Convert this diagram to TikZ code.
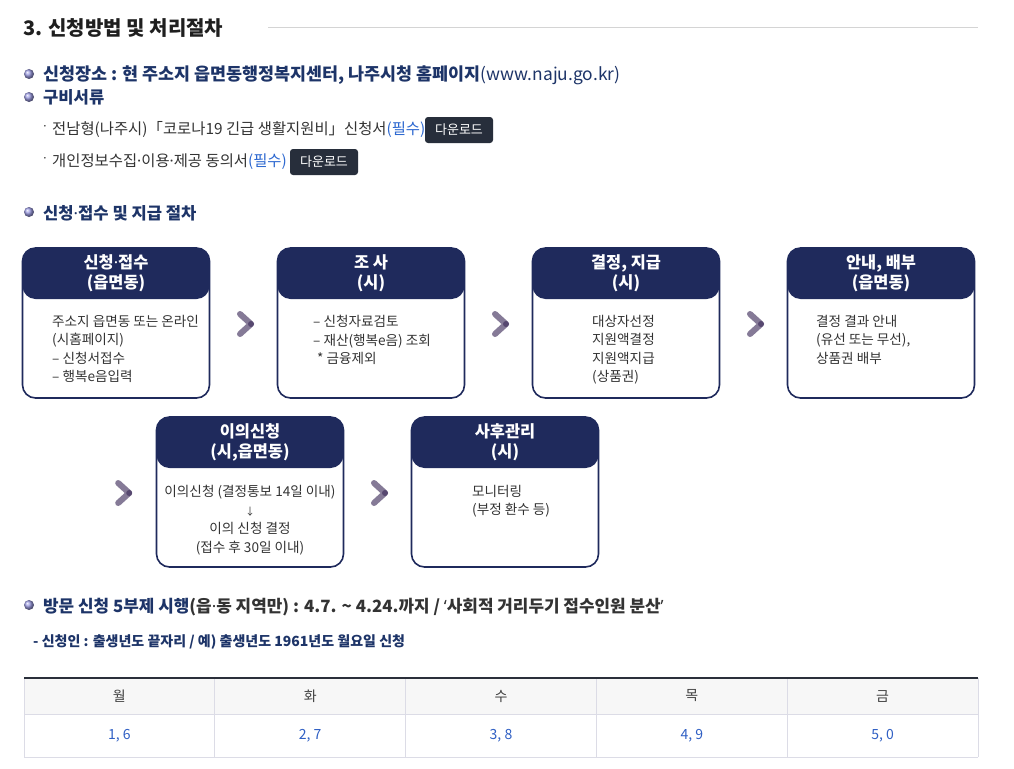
\documentclass[tikz,border=0pt]{standalone}
\usepackage{fontspec}
\setmainfont{Noto Sans CJK KR}
\newfontfamily\latinfont{Noto Sans}
\newcommand\md{{\latinfont ·}}
\usetikzlibrary{calc}
\definecolor{navy}{HTML}{1F2A5C}
\definecolor{tnavy}{HTML}{1D3468}
\definecolor{reqblue}{HTML}{2B67D0}
\definecolor{btnfill}{HTML}{272E3B}
\definecolor{bodygray}{HTML}{333333}
\definecolor{chevc}{HTML}{857A97}
\definecolor{chevd}{HTML}{574870}
\definecolor{bulc}{HTML}{9C9CE2}
\definecolor{thbg}{HTML}{F7F7F7}
\definecolor{tline}{HTML}{DCDCE6}
\definecolor{ttop}{HTML}{2A2F3A}
\definecolor{tblue}{HTML}{2F5FC4}
\definecolor{rulegray}{HTML}{D4D4D4}
\tikzset{
  pbox/.style={draw=navy, line width=1.6pt, rounded corners=13pt,
    minimum width=187pt, minimum height=150pt, inner sep=0pt,
    path picture={\fill[navy] (path picture bounding box.north west) rectangle ([yshift=-51pt]path picture bounding box.north east);}},
  hdr/.style={text=white, font=\fontsize{16.4}{20}\selectfont\bfseries, align=center, inner sep=0pt},
  bodytxt/.style={text=bodygray, font=\fontsize{13.6}{18.5}\selectfont, inner sep=0pt},
  bultxt/.style={anchor=base west, text=tnavy, font=\fontsize{16.6}{20}\selectfont\bfseries, inner sep=0pt},
  subtxt/.style={anchor=base west, text=bodygray, font=\fontsize{15.4}{18}\selectfont, inner sep=0pt},
  btn/.style={fill=btnfill, rounded corners=3pt, text=white, font=\fontsize{13}{16}\selectfont, minimum width=68pt, minimum height=26pt, inner sep=0pt},
  chevline/.style={draw=chevc, line width=6pt, line cap=round, line join=round},
  thtxt/.style={text=black!75, font=\fontsize{14}{16}\selectfont},
  tdtxt/.style={text=tblue, font=\fontsize{14}{16}\selectfont},
}
\newcommand\chevat[1]{%
  \draw[chevline, shift={(#1)}] (-6,-10) -- (5,0) -- (-6,10);
  \fill[chevd, shift={(#1)}] (5,0) circle (3);}
\begin{document}
\begin{tikzpicture}[x=1pt,y=-1pt]
\useasboundingbox[fill=white] (0,0) rectangle (1014,768);
% title
\node[anchor=base west, inner sep=0pt, text=black!88, font=\fontsize{20}{24}\selectfont\bfseries] (title) at (23,36) {3. 신청방법 및 처리절차};
\draw[rulegray, line width=0.8pt] (268,27) -- (978,27);
% bullets
\foreach \yy in {74,97,212,605} \shade[ball color=bulc] (29,\yy) circle (5);
\node[bultxt, font=\fontsize{17.4}{20}\selectfont\bfseries] (bul1) at (43,80) {신청장소 : 현 주소지 읍면동행정복지센터, 나주시청 홈페이지{\mdseries(www.naju.go.kr)}};
\node[bultxt] (bul2) at (43,103) {구비서류};
\node[anchor=center, text=bodygray, font=\fontsize{12}{12}\selectfont, inner sep=0pt] (dot1) at (45,128) {\md};
\node[subtxt] (sub1) at (52,134) {전남형(나주시)「코로나19 긴급 생활지원비」신청서\textcolor{reqblue}{(필수)}};
\node[btn] (btn1) at (459,130) {다운로드};
\node[anchor=center, text=bodygray, font=\fontsize{12}{12}\selectfont, inner sep=0pt] (dot2) at (45,160) {\md};
\node[subtxt] (sub2) at (52,166) {개인정보수집\md 이용\md 제공 동의서\textcolor{reqblue}{(필수)}};
\node[btn] (btn2) at (324,162) {다운로드};
\node[bultxt] (bul3) at (43,219) {신청\md 접수 및 지급 절차};
% boxes
\node[pbox] (b1) at (116,323) {};
\node[pbox] (b2) at (371,323) {};
\node[pbox] (b3) at (626,323) {};
\node[pbox] (b4) at (881,323) {};
\node[pbox] (b5) at (250,492) {};
\node[pbox] (b6) at (505,492) {};
\node[hdr] (b1h) at ([yshift=-26pt]b1.north) {신청\md 접수\\(읍면동)};
\node[hdr] (b2h) at ([yshift=-26pt]b2.north) {조 사\\(시)};
\node[hdr] (b3h) at ([yshift=-26pt]b3.north) {결정, 지급\\(시)};
\node[hdr] (b4h) at ([yshift=-26pt]b4.north) {안내, 배부\\(읍면동)};
\node[hdr] (b5h) at ([yshift=-26pt]b5.north) {이의신청\\(시,읍면동)};
\node[hdr] (b6h) at ([yshift=-26pt]b6.north) {사후관리\\(시)};
\node[bodytxt, anchor=north west, align=left] (b1t) at (52,315) {주소지 읍면동 또는 온라인\\(시홈페이지)\\– 신청서접수\\– 행복e음입력};
\node[bodytxt, anchor=north west, align=left] (b2t) at (313,315) {– 신청자료검토\\– 재산(행복e음) 조회\\\hspace*{4pt}* 금융제외};
\node[bodytxt, anchor=north west, align=left] (b3t) at (592,315) {대상자선정\\지원액결정\\지원액지급\\(상품권)};
\node[bodytxt, anchor=north west, align=left] (b4t) at (816,315) {결정 결과 안내\\(유선 또는 무선),\\상품권 배부};
\node[bodytxt, anchor=north, align=center] (b5t) at (250,485) {이의신청 (결정통보 14일 이내)\\{\fontsize{10}{18.5}\selectfont ↓}\\이의 신청 결정\\(접수 후 30일 이내)};
\node[bodytxt, anchor=north west, align=left] (b6t) at (472,485) {모니터링\\(부정 환수 등)};
% chevrons
\path (b1.east) -- (b2.west) coordinate[pos=0.5] (c12);
\path (b2.east) -- (b3.west) coordinate[pos=0.5] (c23);
\path (b3.east) -- (b4.west) coordinate[pos=0.5] (c34);
\coordinate (c45) at ([xshift=-34pt]b5.west);
\path (b5.east) -- (b6.west) coordinate[pos=0.5] (c56);
\foreach \c in {c12,c23,c34,c45,c56} {\chevat{$(\c)+(2.5,1)$}}
% bullet 4
\node[bultxt, font=\fontsize{16.9}{20}\selectfont\bfseries] (bul4) at (43,612) {방문 신청 5부제 시행\textcolor{black!80}{(읍\md 동 지역만) : 4.7. \textasciitilde{} 4.24.까지 / {\latinfont ‘}사회적 거리두기 접수인원 분산{\latinfont ’}}};
\node[anchor=base west, inner sep=0pt, text=tnavy, font=\fontsize{14}{16}\selectfont\bfseries] (note) at (33,646) {- 신청인 : 출생년도 끝자리 / 예) 출생년도 1961년도 월요일 신청};
% table
\fill[thbg] (24,678) rectangle (978,714);
\foreach \xx in {24,214.8,405.6,596.4,787.2,978} \draw[tline, line width=0.8pt] (\xx,678) -- (\xx,757);
\draw[tline, line width=0.8pt] (24,714) -- (978,714);
\draw[tline, line width=1pt] (24,757) -- (978,757);
\draw[ttop, line width=2pt] (24,678) -- (978,678);
\node[thtxt] (h1) at (119.4,696) {월};
\node[thtxt] (h2) at (310.2,696) {화};
\node[thtxt] (h3) at (501,696) {수};
\node[thtxt] (h4) at (691.8,696) {목};
\node[thtxt] (h5) at (882.6,696) {금};
\node[tdtxt] (d1) at (119.4,736) {1, 6};
\node[tdtxt] (d2) at (310.2,736) {2, 7};
\node[tdtxt] (d3) at (501,736) {3, 8};
\node[tdtxt] (d4) at (691.8,736) {4, 9};
\node[tdtxt] (d5) at (882.6,736) {5, 0};
\end{tikzpicture}
\end{document}
